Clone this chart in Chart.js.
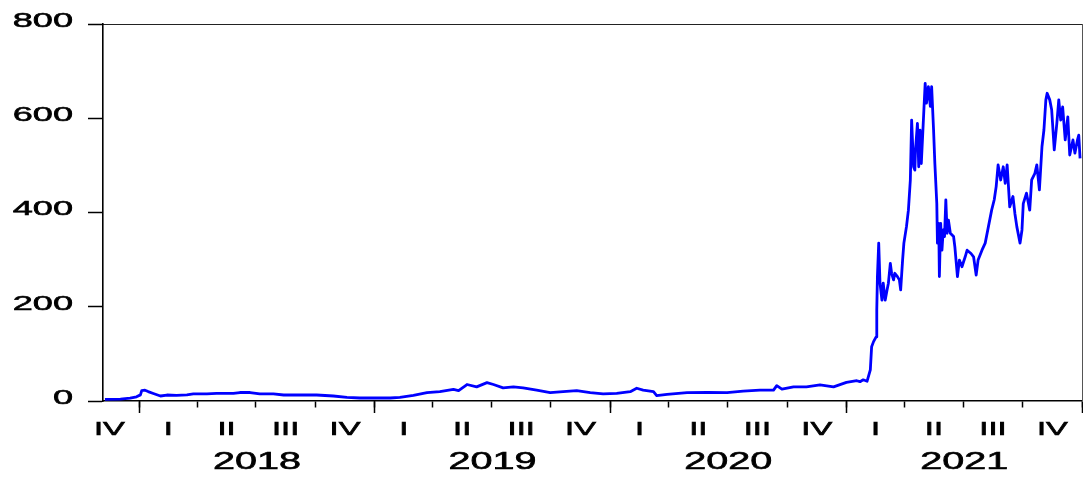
<!DOCTYPE html>
<html>
<head>
<meta charset="utf-8">
<script src="https://cdn.jsdelivr.net/npm/chart.js@4.4.1/dist/chart.umd.min.js"></script>
<style>
  html, body { margin: 0; padding: 0; background: #fff; }
  canvas { display: block; }
</style>
</head>
<body>
<canvas id="chart" width="1083" height="477"></canvas>
<script>
// Daily closing series
const dates = [
  '2017-11-09','2017-12-03','2017-12-18','2017-12-28','2018-01-03','2018-01-05','2018-01-10','2018-01-15',
  '2018-01-23','2018-02-03','2018-02-13','2018-02-28','2018-03-16','2018-03-26','2018-04-16','2018-05-01',
  '2018-05-27','2018-06-06','2018-06-22','2018-07-07','2018-07-28','2018-08-13','2018-09-07','2018-10-03',
  '2018-10-29','2018-11-19','2018-12-09','2018-12-30','2019-01-25','2019-02-09','2019-03-02','2019-03-23',
  '2019-04-12','2019-05-03','2019-05-11','2019-05-24','2019-06-08','2019-06-24','2019-07-04','2019-07-19',
  '2019-08-04','2019-08-19','2019-09-09','2019-09-30','2019-10-20','2019-11-10','2019-12-01','2019-12-21',
  '2020-01-11','2020-02-01','2020-02-11','2020-02-21','2020-03-08','2020-03-13','2020-03-29','2020-04-29',
  '2020-05-30','2020-06-30','2020-07-25','2020-08-20','2020-09-10','2020-09-15','2020-09-23','2020-10-11',
  '2020-10-31','2020-11-21','2020-12-12','2021-01-01','2021-01-17','2021-01-22','2021-01-27','2021-02-02',
  '2021-02-07','2021-02-09','2021-02-12','2021-02-16','2021-02-17','2021-02-18','2021-02-20','2021-02-22',
  '2021-02-25','2021-02-27','2021-03-02','2021-03-05','2021-03-07','2021-03-10','2021-03-12','2021-03-15',
  '2021-03-17','2021-03-21','2021-03-24','2021-03-26','2021-03-29','2021-03-31','2021-04-04','2021-04-07',
  '2021-04-10','2021-04-12','2021-04-15','2021-04-17','2021-04-18','2021-04-21','2021-04-23','2021-04-25',
  '2021-04-27','2021-04-29','2021-05-01','2021-05-03','2021-05-05','2021-05-08','2021-05-11','2021-05-13',
  '2021-05-16','2021-05-18','2021-05-21','2021-05-22','2021-05-24','2021-05-25','2021-05-27','2021-05-29',
  '2021-05-31','2021-06-02','2021-06-04','2021-06-06','2021-06-08','2021-06-11','2021-06-16','2021-06-18',
  '2021-06-22','2021-06-25','2021-06-29','2021-07-04','2021-07-07','2021-07-13','2021-07-17','2021-07-21',
  '2021-07-24','2021-07-30','2021-08-04','2021-08-09','2021-08-14','2021-08-18','2021-08-21','2021-08-24',
  '2021-08-28','2021-09-01','2021-09-04','2021-09-07','2021-09-11','2021-09-16','2021-09-19','2021-09-22',
  '2021-09-27','2021-09-30','2021-10-02','2021-10-07','2021-10-12','2021-10-15','2021-10-20','2021-10-23',
  '2021-10-27','2021-10-31','2021-11-03','2021-11-06','2021-11-08','2021-11-12','2021-11-15','2021-11-19',
  '2021-11-23','2021-11-26','2021-11-29','2021-12-02','2021-12-06','2021-12-10','2021-12-13','2021-12-18',
  '2021-12-21','2021-12-25','2021-12-27','2021-12-29'
];
const prices = [
  3.5, 4, 6, 9, 13, 22, 23, 20,
  16, 10.6, 12.7, 12, 13, 15, 15, 16,
  16, 18, 18, 15, 15, 12.7, 12.7, 12.7,
  10.6, 7.8, 6.4, 6.4, 6.4, 7.8, 12, 17.7,
  19.8, 24.7, 22, 35, 30, 39, 35, 28,
  30, 28, 23, 17.7, 19.8, 22, 17.7, 15,
  16, 19.8, 27, 23, 19.8, 11.3, 14, 17.7,
  18.4, 17.7, 21, 23, 23, 32.5, 25, 30,
  30, 34, 30, 39.6, 43, 41, 45, 42,
  66, 115, 126, 136, 193, 264, 335, 250,
  214, 250, 214, 236, 250, 292, 271, 257,
  271, 264, 257, 236, 299, 335, 370, 405,
  469, 596, 497, 490, 533, 589, 497, 575,
  504, 561, 618, 674, 632, 667, 625, 667,
  575, 504, 419, 335, 377, 264, 377, 320,
  363, 349, 427, 356, 384, 356, 349, 327,
  264, 299, 285, 306, 320, 313, 306, 267,
  299, 320, 335, 370, 405, 427, 455, 501,
  469, 497, 462, 501, 412, 434, 398, 370,
  335, 363, 419, 441, 405, 469, 483, 501,
  448, 540, 575, 639, 653, 639, 618, 533,
  589, 639, 596, 624, 554, 603, 522, 554,
  526, 554, 564, 515
];
const quarterNames = ['I', 'II', 'III', 'IV'];
const yearLabels = ['2018', '2019', '2020', '2021'];
const yTicks = [0, 200, 400, 600, 800];
const axisStart = '2017-11-06';
const axisEnd = '2022-01-01';

// Day number relative to 1 Jan 2018
const dayNumber = s => {
  const [y, m, d] = s.split('-').map(Number);
  return (Date.UTC(y, m - 1, d) - Date.UTC(2018, 0, 1)) / 86400000;
};
const axisMin = dayNumber(axisStart);
const axisMax = dayNumber(axisEnd);
const inRange = v => v >= axisMin && v <= axisMax;

// Quarter boundaries (tick marks) and quarter mid-points (numeral labels)
const quarterTicks = [];
const quarterLabelAt = new Map();
const quarterEdges = new Set();
for (let y = 2017; y <= 2021; y++) {
  for (let q = 0; q < 4; q++) {
    const start = dayNumber(`${y}-${String(q * 3 + 1).padStart(2, '0')}-01`);
    const end = q === 3 ? dayNumber(`${y + 1}-01-01`) : dayNumber(`${y}-${String(q * 3 + 4).padStart(2, '0')}-01`);
    const mid = (start + end) / 2;
    if (inRange(start)) { quarterTicks.push(start); quarterEdges.add(start); }
    if (inRange(mid)) { quarterTicks.push(mid); quarterLabelAt.set(mid, quarterNames[q]); }
  }
}
if (!quarterEdges.has(axisMax)) { quarterTicks.push(axisMax); quarterEdges.add(axisMax); }
quarterTicks.sort((a, b) => a - b);

// Year boundaries (long tick marks) and year mid-points (year labels)
const yearTicks = [];
const yearLabelAt = new Map();
const yearEdges = new Set();
yearLabels.forEach((label, i) => {
  const y = Number(label);
  const start = dayNumber(`${y}-01-01`);
  const end = dayNumber(`${y + 1}-01-01`);
  yearTicks.push(start, (start + end) / 2);
  yearEdges.add(start);
  yearLabelAt.set((start + end) / 2, label);
  if (i === yearLabels.length - 1) { yearTicks.push(end); yearEdges.add(end); }
});

const points = dates.map((d, i) => ({ x: dayNumber(d), y: prices[i] }));

// Axis text is drawn horizontally widened, as in the original graph export
const wideText = {
  id: 'wideText',
  beforeDraw(chart, args, opts) {
    const ctx = chart.ctx;
    const widen = base => function (text, x, y) {
      this.save();
      this.translate(x, y);
      this.scale(opts.factor, 1);
      base.call(this, text, 0, 0);
      this.restore();
    };
    ctx.fillText = widen(CanvasRenderingContext2D.prototype.fillText);
    ctx.strokeText = widen(CanvasRenderingContext2D.prototype.strokeText);
  },
  afterDraw(chart) {
    delete chart.ctx.fillText;
    delete chart.ctx.strokeText;
  }
};

// Axes overlaid on the plot frame must not shrink the plot area
const noSidePadding = s => { s.paddingLeft = 0; s.paddingRight = 0; };

const FONT = 'Liberation Sans, Arial, sans-serif';
const frameColor = '#000';
const labelStroke = { textStrokeColor: '#000', textStrokeWidth: 0.6 };

new Chart(document.getElementById('chart'), {
  type: 'line',
  data: {
    datasets: [{
      data: points,
      borderColor: '#0000ff',
      borderWidth: 2.8,
      pointRadius: 0,
      tension: 0,
      borderJoinStyle: 'round',
      fill: false
    }]
  },
  plugins: [wideText],
  options: {
    responsive: false,
    animation: false,
    devicePixelRatio: 1,
    layout: { padding: { top: 24, right: 1, bottom: 76, left: 0 } },
    plugins: {
      legend: { display: false },
      tooltip: { enabled: false },
      wideText: { factor: 1.72 }
    },
    scales: {
      x: {
        type: 'linear',
        min: axisMin,
        max: axisMax,
        position: { y: 0 },
        afterBuildTicks: s => { s.ticks = quarterTicks.map(v => ({ value: v })); },
        afterFit: noSidePadding,
        ticks: {
          autoSkip: false, maxRotation: 0, minRotation: 0,
          padding: 11, color: '#000', ...labelStroke,
          font: { family: FONT, size: 19 },
          callback: v => quarterLabelAt.get(v) || ''
        },
        grid: {
          drawOnChartArea: false,
          tickLength: 6,
          tickWidth: 1.5,
          tickColor: c => (c.tick && quarterEdges.has(c.tick.value)) ? frameColor : 'rgba(0,0,0,0)'
        },
        border: { color: frameColor, width: 1.5 }
      },
      xYear: {
        type: 'linear',
        min: axisMin,
        max: axisMax,
        position: { y: 0 },
        afterBuildTicks: s => { s.ticks = yearTicks.map(v => ({ value: v })); },
        afterFit: noSidePadding,
        ticks: {
          autoSkip: false, maxRotation: 0, minRotation: 0,
          padding: 36, color: '#000', ...labelStroke,
          font: { family: FONT, size: 23 },
          callback: v => yearLabelAt.get(v) || ''
        },
        grid: {
          drawOnChartArea: false,
          tickLength: 12,
          tickWidth: 1.5,
          tickColor: c => (c.tick && yearEdges.has(c.tick.value)) ? frameColor : 'rgba(0,0,0,0)'
        },
        border: { display: false }
      },
      xTop: {
        type: 'linear',
        min: axisMin,
        max: axisMax,
        position: { y: 800 },
        afterFit: noSidePadding,
        ticks: { display: false },
        grid: { drawOnChartArea: false, drawTicks: false },
        border: { color: '#222', width: 1 }
      },
      y: {
        type: 'linear',
        min: 0,
        max: 800,
        position: 'left',
        afterBuildTicks: s => { s.ticks = yTicks.map(v => ({ value: v })); },
        afterFit: s => { s.width = 103; s.paddingTop = 0; s.paddingBottom = 0; },
        ticks: {
          padding: 15, color: '#000', labelOffset: -3, ...labelStroke,
          font: { family: FONT, size: 21 }
        },
        grid: { drawOnChartArea: false, tickLength: 15, tickWidth: 1.5, tickColor: frameColor },
        border: { color: frameColor, width: 1.6 }
      },
      yRight: {
        type: 'linear',
        min: 0,
        max: 800,
        position: { x: axisMax },
        afterFit: s => { s.paddingTop = 0; s.paddingBottom = 0; },
        ticks: { display: false },
        grid: { drawOnChartArea: false, drawTicks: false },
        border: { color: '#555', width: 1 }
      }
    }
  }
});
</script>
</body>
</html>
